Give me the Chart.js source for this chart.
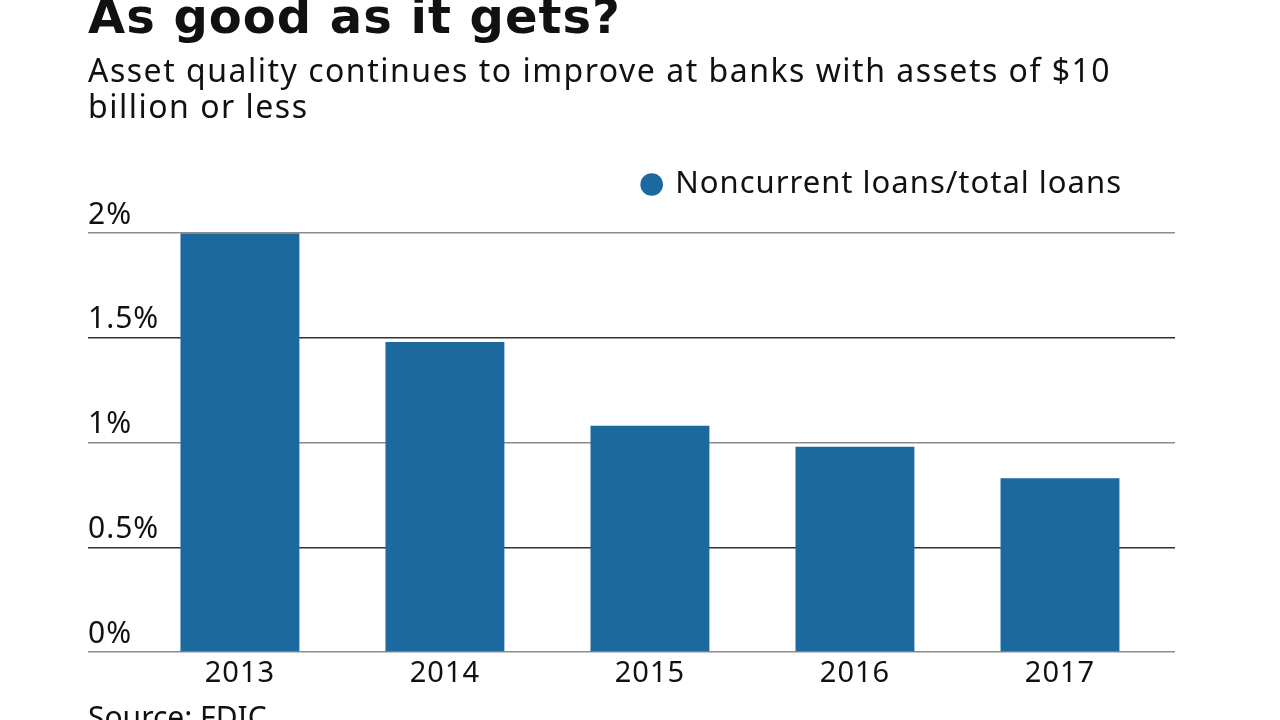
<!DOCTYPE html>
<html>
<head>
<meta charset="utf-8">
<script src="https://cdn.jsdelivr.net/npm/chart.js@4"></script>
<style>
    html, body { margin: 0; padding: 0; background: #fff; overflow: hidden; }
    #wrap { position: relative; width: 1280px; height: 720px; }
    #myChart { position: absolute; left: 0; top: 0; }
    .txt { position: absolute; left: 88px; font-family: 'Noto Sans', sans-serif; color: #111; white-space: nowrap; }
    #title { top: -8px; font-family: 'DejaVu Sans', sans-serif; font-size: 48px; line-height: 48px; font-weight: 700; letter-spacing: 1px; }
    #subtitle { top: 52px; font-size: 32px; line-height: 36px; letter-spacing: 1.5px; }
    #source { top: 702px; font-size: 30px; line-height: 30px; }
</style>
</head>
<body>
<div id="wrap">
    <canvas id="myChart" width="1280" height="720"></canvas>
    <div class="txt" id="title">As good as it gets?</div>
    <div class="txt" id="subtitle">Asset quality continues to improve at banks with assets of $10<br>billion or less</div>
    <div class="txt" id="source">Source: FDIC</div>
</div>
<script>
// data
const years = [2013, 2014, 2015, 2016, 2017];
const noncurrentRatio = [2.0, 1.48, 1.08, 0.98, 0.83];
const yTicks = [0, 0.5, 1, 1.5, 2];
const seriesLabel = 'Noncurrent loans/total loans';

const barColor = 'rgb(28, 105, 160)';

// the reference font runs a bit wider than Noto Sans, so space the canvas text out a little
const letterSpacingPlugin = {
    id: 'letterSpacing',
    beforeLayout: (chart) => { chart.ctx.letterSpacing = '1px'; },
    beforeDraw: (chart) => { chart.ctx.letterSpacing = '1px'; }
};

const chartData = {
    datasets: [{
        label: seriesLabel,
        data: years.map((year, i) => ({ x: year, y: noncurrentRatio[i] })),
        backgroundColor: barColor,
        borderWidth: 0,
        categoryPercentage: 1,
        barPercentage: 0.58
    }]
};

const chartConfig = {
    type: 'bar',
    data: chartData,
    plugins: [letterSpacingPlugin],
    options: {
        responsive: false,
        animation: false,
        layout: {
            padding: { left: 88, right: 105, top: 116, bottom: 25 }
        },
        scales: {
            x: {
                type: 'linear',
                offset: false,
                min: 2012.259,
                max: 2017.561,
                afterBuildTicks: (scale) => {
                    scale.ticks = years.map(v => ({ value: v }));
                },
                grid: { display: false, drawTicks: false },
                border: { display: false },
                ticks: {
                    callback: (value) => String(value),
                    color: '#111',
                    padding: 7,
                    font: { family: 'Noto Sans', size: 29, lineHeight: 1 }
                }
            },
            y: {
                min: 0,
                max: 2,
                afterBuildTicks: (scale) => {
                    scale.ticks = yTicks.map(v => ({ value: v }));
                },
                border: { display: false },
                grid: {
                    drawTicks: false,
                    lineWidth: 1.5,
                    color: (ctx) => (ctx.tick && (ctx.tick.value === 1.5 || ctx.tick.value === 0.5)) ? '#333333' : '#8c8c8c'
                },
                ticks: {
                    mirror: true,
                    padding: 0,
                    labelOffset: -18,
                    color: '#111',
                    font: { family: 'Noto Sans', size: 30 },
                    callback: (value) => value + '%'
                }
            }
        },
        plugins: {
            legend: {
                display: true,
                position: 'top',
                align: 'end',
                labels: {
                    usePointStyle: true,
                    pointStyle: 'circle',
                    boxWidth: 16,
                    boxHeight: 16,
                    padding: 53,
                    color: '#111',
                    font: { family: 'Noto Sans', size: 31 }
                }
            },
            // empty title used only as a gap between the legend and the plot
            title: {
                display: true,
                text: ' ',
                weight: 500,
                font: { size: 1 },
                padding: { top: 0, bottom: 22 }
            },
            tooltip: { enabled: false }
        }
    }
};

new Chart(
    document.getElementById('myChart'),
    chartConfig
);
</script>
</body>
</html>
